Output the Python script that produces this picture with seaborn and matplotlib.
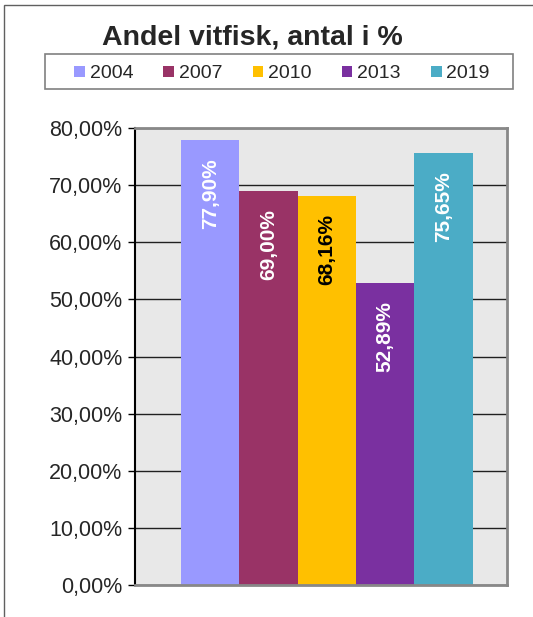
import pandas as pd
import numpy as np
import matplotlib.pyplot as plt
import seaborn as sns
from matplotlib.patches import Rectangle

# data
years = ['2004', '2007', '2010', '2013', '2019']
shares = [77.90, 69.00, 68.16, 52.89, 75.65]
labels = ['77,90%', '69,00%', '68,16%', '52,89%', '75,65%']
colors = ['#9999FF', '#993366', '#FFC000', '#7A30A0', '#4BACC6']
label_colors = ['white', 'white', 'black', 'white', 'white']

df = pd.DataFrame({'grupp': [''] * len(years), 'år': years, 'andel': shares})

sns.set_style('white')
plt.rcParams['font.family'] = ['Liberation Sans', 'DejaVu Sans']

fig = plt.figure(figsize=(5.33, 6.17), dpi=100)
ax = fig.add_axes([0.2533, 0.0519, 0.6977, 0.7406])

sns.barplot(data=df, x='grupp', y='andel', hue='år', palette=colors,
            width=0.785, saturation=1, ax=ax, edgecolor='none', linewidth=0)

ax.set_facecolor('#E8E8E8')
ax.set_ylim(0, 80)
ax.set_xlim(-0.516, 0.484)
ax.set_yticks(np.arange(0, 81, 10))
ax.set_yticklabels([f'{v:.2f}%'.replace('.', ',') for v in np.arange(0, 81, 10)], fontsize=15.5)
ax.set_xticks([])
ax.set_xlabel('')
ax.set_ylabel('')
ax.yaxis.grid(True, color='#202020', linewidth=1)
ax.set_axisbelow(True)
ax.tick_params(axis='y', left=True, length=5, width=1, color='black', pad=4)

for side in ['top', 'right', 'bottom']:
    ax.spines[side].set_color('#888888')
    ax.spines[side].set_linewidth(2)
ax.spines['left'].set_color('black')
ax.spines['left'].set_linewidth(1.5)

# labels inside the bars
for bar, txt, c in zip(ax.patches, labels, label_colors):
    ax.annotate(txt, (bar.get_x() + bar.get_width() / 2, bar.get_height()),
                xytext=(0, -13), textcoords='offset points',
                ha='center', va='top', rotation=90, fontsize=15,
                fontweight='bold', color=c)

handles, names = ax.get_legend_handles_labels()
ax.get_legend().remove()
leg = fig.legend(handles, names, loc='center', ncol=5,
                 bbox_to_anchor=(0.09, 0.852, 0.878, 0.0567),
                 frameon=False, fontsize=14, handlelength=0.55, handleheight=0.55,
                 handletextpad=0.25, columnspacing=1.55, borderaxespad=0)

fig.text(0.474, 0.94, 'Andel vitfisk, antal i %', ha='center', va='center',
         fontsize=20.5, fontweight='bold')

# legend frame spanning the full width like the reference
fig.patches.append(Rectangle((45 / 533, 1 - 89 / 617), 468 / 533, 35 / 617,
                             transform=fig.transFigure, fill=False,
                             edgecolor='#808080', linewidth=1.2))

# outer chart frame
fig.patches.append(Rectangle((4 / 533, -0.1), 1.2, 1 - 5 / 617 + 0.1,
                             transform=fig.transFigure, fill=False,
                             edgecolor='#606060', linewidth=1))

plt.savefig('out.png', dpi=100)
